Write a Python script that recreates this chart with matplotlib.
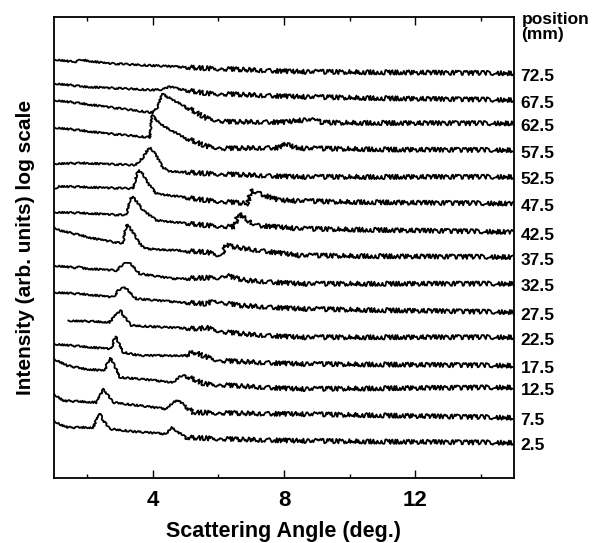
import numpy as np
import matplotlib
matplotlib.use("Agg")
import matplotlib.pyplot as plt
import matplotlib.transforms as mtransforms

# sample positions (mm), bottom to top
positions = ["2.5", "7.5", "12.5", "17.5", "22.5", "27.5", "32.5",
             "37.5", "42.5", "47.5", "52.5", "57.5", "62.5", "67.5", "72.5"]

# scattering angle (deg.) and offset log intensity
ang_2_5 = [1.0, 1.2, 1.43, 2.19, 2.28, 2.39, 2.5, 2.69, 3.5, 4.42, 4.5, 4.59, 4.75, 5.02, 6.5, 8.47, 11.5, 15.0]
int_2_5 = [5.7, 5.3, 5.03, 5.03, 5.8, 6.43, 5.7, 4.87, 4.6, 4.37, 4.8, 5.03, 4.6, 4.03, 3.85, 3.7, 3.6, 3.5]

ang_7_5 = [1.0, 1.28, 2.29, 2.4, 2.51, 2.62, 2.79, 3.6, 4.42, 4.6, 4.77, 4.95, 5.23, 6.5, 8.47, 11.5, 15.0]
int_7_5 = [8.37, 7.7, 7.53, 8.3, 8.87, 8.3, 7.53, 7.2, 6.87, 7.5, 7.77, 7.3, 6.53, 6.45, 6.37, 6.2, 6.0]

ang_12_5 = [1.0, 1.4, 1.92, 2.54, 2.62, 2.71, 2.82, 3.0, 3.8, 4.62, 4.8, 4.97, 5.2, 5.58, 7.0, 8.47, 11.5, 15.0]
int_12_5 = [11.87, 11.2, 10.87, 10.7, 11.5, 11.93, 11.3, 10.03, 9.8, 9.53, 10.05, 10.2, 9.9, 9.37, 9.1, 8.87, 8.95, 9.03]

ang_17_5 = [1.0, 1.85, 2.74, 2.8, 2.87, 2.97, 3.1, 3.6, 5.0, 5.15, 5.28, 5.6, 6.04, 7.0, 8.47, 11.5, 15.0]
int_17_5 = [13.37, 13.1, 12.87, 13.6, 14.1, 13.4, 12.53, 12.2, 12.2, 12.45, 12.53, 12.1, 11.7, 11.55, 11.37, 11.3, 11.2]

ang_22_5 = [1.43, 2.69, 2.85, 3.02, 3.15, 3.35, 4.5, 5.43, 5.6, 5.85, 6.24, 7.0, 8.47, 11.5, 15.0]
int_22_5 = [15.7, 15.53, 16.2, 16.7, 16.0, 15.2, 15.0, 14.87, 15.03, 14.8, 14.53, 14.3, 14.03, 14.03, 14.03]

ang_27_5 = [1.0, 2.0, 2.8, 2.95, 3.15, 3.3, 3.5, 4.5, 5.63, 5.88, 6.2, 6.64, 8.47, 11.5, 15.0]
int_27_5 = [18.53, 18.3, 18.03, 18.7, 19.03, 18.5, 17.87, 17.6, 17.37, 17.7, 17.45, 17.2, 16.87, 16.7, 16.53]

ang_32_5 = [1.0, 1.7, 1.8, 1.9, 2.9, 3.1, 3.25, 3.4, 3.6, 4.62, 6.0, 6.24, 6.5, 6.85, 8.47, 11.5, 15.0]
int_32_5 = [21.2, 20.95, 21.1, 20.9, 20.7, 21.3, 21.53, 21.1, 20.37, 19.87, 20.0, 20.2, 19.95, 19.7, 19.37, 19.37, 19.37]

ang_37_5 = [1.0, 1.17, 2.19, 3.1, 3.15, 3.22, 3.4, 3.6, 3.76, 5.63, 6.09, 6.24, 6.8, 8.47, 11.5, 15.0]
int_37_5 = [25.03, 24.7, 23.9, 23.37, 24.6, 25.3, 24.5, 23.37, 22.87, 22.53, 22.2, 23.2, 22.87, 22.2, 22.1, 22.03]

ang_42_5 = [1.0, 2.0, 3.2, 3.3, 3.38, 3.55, 3.7, 4.11, 5.63, 6.49, 6.61, 6.85, 7.15, 8.47, 11.5, 15.0]
int_42_5 = [26.53, 26.4, 26.2, 27.7, 28.1, 27.4, 26.7, 25.7, 25.2, 25.03, 26.37, 25.8, 25.2, 24.87, 24.7, 24.53]

ang_47_5 = [1.0, 1.15, 2.5, 3.4, 3.47, 3.55, 3.7, 3.85, 4.11, 5.63, 6.9, 7.0, 7.4, 7.86, 9.5, 12.0, 15.0]
int_47_5 = [28.87, 29.1, 28.95, 28.87, 29.7, 30.7, 30.3, 29.4, 28.37, 27.7, 27.37, 28.7, 28.2, 27.7, 27.55, 27.45, 27.37]

ang_52_5 = [1.0, 2.0, 3.47, 3.7, 3.85, 3.95, 4.1, 4.3, 4.5, 5.63, 8.47, 11.5, 15.0]
int_52_5 = [31.37, 31.4, 31.2, 31.95, 32.75, 32.87, 32.2, 31.0, 30.6, 30.37, 30.03, 30.03, 30.03]

ang_57_5 = [1.0, 2.59, 3.91, 3.98, 4.21, 4.6, 4.92, 5.63, 6.2, 7.8, 8.07, 8.4, 11.5, 15.0]
int_57_5 = [34.97, 34.37, 33.97, 36.2, 35.37, 34.6, 34.03, 33.1, 32.87, 32.95, 33.3, 32.9, 32.75, 32.7]

ang_62_5 = [1.0, 2.59, 4.0, 4.15, 4.29, 4.45, 4.92, 5.63, 6.23, 8.0, 8.77, 9.2, 11.5, 15.0]
int_62_5 = [37.7, 37.03, 36.43, 37.0, 38.3, 38.0, 37.2, 35.9, 35.53, 35.5, 35.77, 35.45, 35.4, 35.37]

ang_67_5 = [1.0, 1.9, 4.0, 4.3, 4.52, 4.8, 5.63, 8.47, 11.5, 15.0]
int_67_5 = [39.37, 39.03, 38.7, 38.75, 39.03, 38.8, 38.37, 38.03, 37.85, 37.7]

ang_72_5 = [1.0, 1.6, 1.83, 2.6, 3.6, 5.63, 8.47, 11.5, 15.0]
int_72_5 = [41.77, 41.5, 41.7, 41.37, 41.2, 40.87, 40.53, 40.45, 40.37]

angles = [ang_2_5, ang_7_5, ang_12_5, ang_17_5, ang_22_5, ang_27_5, ang_32_5,
          ang_37_5, ang_42_5, ang_47_5, ang_52_5, ang_57_5, ang_62_5, ang_67_5, ang_72_5]
intens = [int_2_5, int_7_5, int_12_5, int_17_5, int_22_5, int_27_5, int_32_5,
          int_37_5, int_42_5, int_47_5, int_52_5, int_57_5, int_62_5, int_67_5, int_72_5]

plt.rcParams['font.family'] = ['Liberation Sans', 'DejaVu Sans']
plt.rcParams['font.weight'] = 'bold'

fig = plt.figure(figsize=(6.01, 5.43), dpi=100)
ax = fig.add_axes([0.0903, 0.12, 0.7644, 0.849])

split = 5.0  # measurement gets noisier beyond this angle
for a, v in zip(angles, intens):
    a = np.array(a)
    v = np.array(v)
    lo = a <= split
    hi = a >= split
    # keep the two pieces joined at the split angle
    vs = np.interp(split, a, v)
    a_lo = np.append(a[lo], split)
    v_lo = np.append(v[lo], vs)
    a_hi = np.insert(a[hi], 0, split)
    v_hi = np.insert(v[hi], 0, vs)
    l1, = ax.plot(a_lo, v_lo, color='black', lw=1.3, solid_joinstyle='round')
    l1.set_sketch_params(scale=0.9, length=2.5, randomness=4)
    l2, = ax.plot(a_hi, v_hi, color='black', lw=1.3, solid_joinstyle='round')
    l2.set_sketch_params(scale=2.2, length=1.2, randomness=6)

ax.set_xlim(1, 15)
ax.set_ylim(0, 46)
ax.set_xticks([4, 8, 12])
ax.set_xticks([2, 6, 10, 14], minor=True)
ax.set_yticks([])
ax.tick_params(axis='x', which='both', direction='in', top=True, labelsize=16, pad=9)
ax.tick_params(axis='x', which='major', length=6, width=1)
ax.tick_params(axis='x', which='minor', length=3, width=1)
for s in ax.spines.values():
    s.set_linewidth(1.3)

ax.set_xlabel("Scattering Angle (deg.)", fontsize=15.5, fontweight='bold', labelpad=7)
ax.set_ylabel("Intensity (arb. units) log scale", fontsize=15, fontweight='bold', labelpad=14)

trans = mtransforms.blended_transform_factory(ax.transAxes, ax.transData)
for p, v in zip(positions, intens):
    ax.annotate(p, xy=(1, v[-1] - 0.3), xycoords=trans, xytext=(5, 0),
                textcoords='offset points', ha='left', va='center',
                fontsize=12.5, fontweight='bold')
ax.text(1.017, 1.01, "position\n(mm)", transform=ax.transAxes, ha='left', va='top',
        fontsize=12.5, fontweight='bold', linespacing=1.0)

fig.savefig("out.png", dpi=100)
